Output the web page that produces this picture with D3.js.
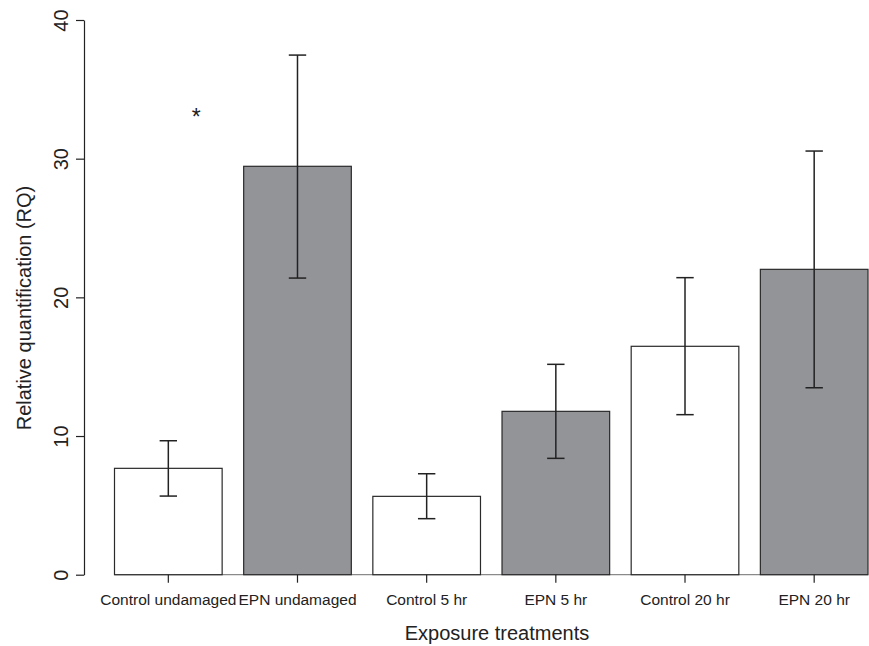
<!DOCTYPE html>
<html>
<head>
<meta charset="utf-8">
<script src="https://cdn.jsdelivr.net/npm/d3@7"></script>
<style>
  body { margin: 0; background: #fff; }
  svg { display: block; font-family: "Liberation Sans", Arial, Helvetica, sans-serif; }
</style>
</head>
<body>
<div id="chart"></div>
<script>
// Values.
const categories = ['Control undamaged', 'EPN undamaged', 'Control 5 hr', 'EPN 5 hr', 'Control 20 hr', 'EPN 20 hr'];
const means = [7.67, 29.45, 5.65, 11.78, 16.47, 22.02];
const upper = [9.66, 37.47, 7.28, 15.17, 21.42, 30.55];
const lower = [5.67, 21.39, 4.04, 8.39, 11.54, 13.48];
const treated = [false, true, false, true, false, true];
const yTicks = [0, 10, 20, 30, 40];
const star = { category: 'Control undamaged', offset: 0.76, value: 33.4, label: '*' };

const width = 869;
const height = 646;
const ink = '#222';

let svg = d3.select('#chart').append('svg')
  .attr('width', width)
  .attr('height', height);

let x = d3.scaleBand()
  .domain(categories)
  .range([114.5, 868])
  .paddingInner(1 / 6)
  .paddingOuter(0);

let y = d3.scaleLinear()
  .domain([0, 40])
  .range([574.7, 20]);

let rows = d3.zip(categories, means, upper, lower, treated);

// Baseline under the bars.
svg.append('line')
  .attr('x1', x(categories[0]))
  .attr('x2', x(categories[categories.length - 1]) + x.bandwidth())
  .attr('y1', y(0))
  .attr('y2', y(0))
  .attr('stroke', '#8a8a8a')
  .attr('stroke-width', 1.2);

// Bars.
svg.selectAll('rect.bar')
  .data(rows)
  .enter()
  .append('rect')
    .attr('class', 'bar')
    .attr('x', d => x(d[0]))
    .attr('y', d => y(d[1]))
    .attr('width', x.bandwidth())
    .attr('height', d => y(0) - y(d[1]))
    .attr('fill', d => d[4] ? '#939498' : '#fff')
    .attr('stroke', '#2a2a2a')
    .attr('stroke-width', 1.2);

// Error bars.
let cap = 8.7;
let err = svg.selectAll('g.err')
  .data(rows)
  .enter()
  .append('g')
    .attr('class', 'err')
    .attr('transform', d => `translate(${x(d[0]) + x.bandwidth() / 2},0)`)
    .attr('stroke', ink)
    .attr('stroke-width', 1.5);

err.append('line')
  .attr('y1', d => y(d[2]))
  .attr('y2', d => y(d[3]));
err.append('line')
  .attr('x1', -cap).attr('x2', cap)
  .attr('y1', d => y(d[2])).attr('y2', d => y(d[2]));
err.append('line')
  .attr('x1', -cap).attr('x2', cap)
  .attr('y1', d => y(d[3])).attr('y2', d => y(d[3]));

// Y axis with rotated tick labels.
let yAxis = svg.append('g')
  .attr('transform', 'translate(84,0)')
  .call(d3.axisLeft(y).tickValues(yTicks).tickSize(8).tickSizeOuter(0));

yAxis.select('.domain').attr('stroke', ink).attr('stroke-width', 1.2);
yAxis.selectAll('.tick line').attr('stroke', ink).attr('stroke-width', 1.2);
yAxis.selectAll('.tick text')
  .attr('x', null)
  .attr('dy', null)
  .attr('transform', 'translate(-16,0) rotate(-90)')
  .attr('text-anchor', 'middle')
  .attr('font-size', 20)
  .attr('font-family', null)
  .attr('fill', ink);

// X axis: ticks and category labels, no line.
let xAxis = svg.append('g')
  .attr('transform', `translate(0,${y(0)})`)
  .call(d3.axisBottom(x).tickSize(8).tickSizeOuter(0));

xAxis.select('.domain').remove();
xAxis.selectAll('.tick line').attr('stroke', ink).attr('stroke-width', 1.2);
xAxis.selectAll('.tick text')
  .attr('y', 30.5)
  .attr('dy', null)
  .attr('font-size', 15.5)
  .attr('font-family', null)
  .attr('fill', ink);

// Axis titles.
svg.append('text')
  .attr('x', 497)
  .attr('y', 640)
  .attr('text-anchor', 'middle')
  .attr('font-size', 20)
  .attr('fill', ink)
  .text('Exposure treatments');

svg.append('text')
  .attr('transform', 'translate(31,308) rotate(-90)')
  .attr('text-anchor', 'middle')
  .attr('font-size', 20)
  .attr('fill', ink)
  .text('Relative quantification (RQ)');

// Significance mark.
svg.append('text')
  .attr('x', x(star.category) + x.bandwidth() * star.offset)
  .attr('y', y(star.value))
  .attr('dy', '0.6em')
  .attr('text-anchor', 'middle')
  .attr('font-size', 23)
  .attr('fill', ink)
  .text(star.label);
</script>
</body>
</html>
